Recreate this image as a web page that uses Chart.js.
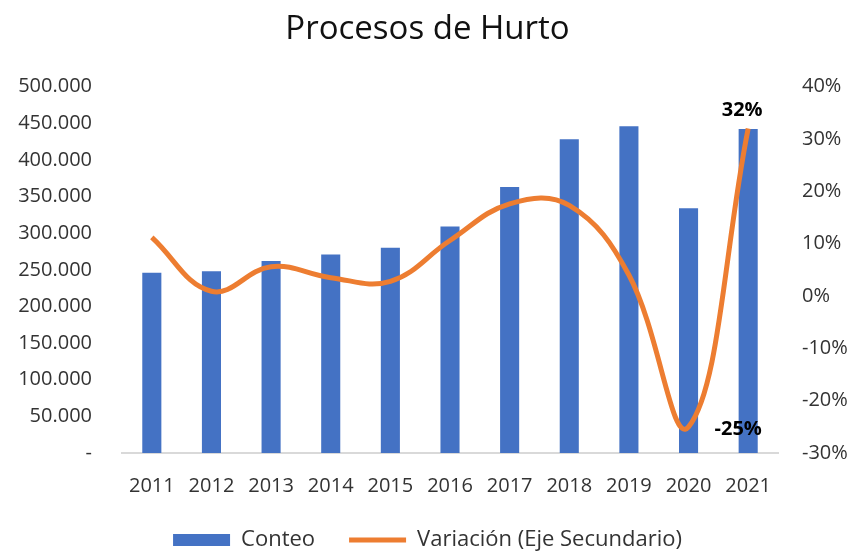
<!DOCTYPE html>
<html>
<head>
<meta charset="utf-8">
<script src="https://cdn.jsdelivr.net/npm/chart.js@4"></script>
<style>
  html, body { margin: 0; padding: 0; background: #fff; }
  #wrap { width: 855px; height: 551px; }
</style>
</head>
<body>
<div id="wrap"><canvas id="chart" width="855" height="551"></canvas></div>
<script>
// values
const years = ['2011','2012','2013','2014','2015','2016','2017','2018','2019','2020','2021'];
const conteo = [246000, 248000, 262000, 271000, 280000, 309000, 363000, 428000, 446000, 334000, 442000];
const variacion = [11.2, 0.9, 5.6, 3.5, 2.8, 10.6, 17.6, 17.3, 4.0, -25, 32];
const labeledYears = ['2020', '2021'];

const BLUE = '#4472C4';
const ORANGE = '#ED7D31';
const FONT = "'Open Sans', 'Noto Sans', sans-serif";

function miles(v){
  if(v === 0) return '-';
  return String(v).replace(/\B(?=(\d{3})+(?!\d))/g, '.');
}

// data labels for the line (only 2020 and 2021)
const pointLabels = {
  id: 'pointLabels',
  afterDatasetsDraw(chart){
    const meta = chart.getDatasetMeta(1);
    const ctx = chart.ctx;
    ctx.save();
    ctx.font = 'bold 20px ' + FONT;
    ctx.fillStyle = '#000';
    years.forEach((y, i)=>{
      if(!labeledYears.includes(y)) return;
      const pt = meta.data[i];
      const txt = Math.round(variacion[i]) + '%';
      if(variacion[i] >= 0){
        ctx.textAlign = 'center';
        ctx.textBaseline = 'bottom';
        ctx.fillText(txt, pt.x - 6, pt.y - 8);
      } else {
        ctx.textAlign = 'left';
        ctx.textBaseline = 'middle';
        ctx.fillText(txt, pt.x + 26, pt.y + 2);
      }
    });
    ctx.restore();
  }
};

// nudge the legend down, and let the year labels use the room above it
const legendShift = {
  id: 'legendShift',
  afterLayout(chart){
    if(chart.legend){ chart.legend.top += 10; chart.legend.bottom += 10; }
    const x = chart.scales.x;
    if(x){ x.bottom = x.top + 55; x.height = 55; }
  }
};

new Chart(document.getElementById('chart'), {
  data: {
    labels: years,
    datasets: [
      {
        type: 'bar',
        label: 'Conteo',
        data: conteo,
        backgroundColor: BLUE,
        yAxisID: 'y',
        barPercentage: 0.32,
        categoryPercentage: 1,
        order: 2
      },
      {
        type: 'line',
        label: 'Variación (Eje Secundario)',
        data: variacion,
        borderColor: ORANGE,
        backgroundColor: ORANGE,
        borderWidth: 5,
        pointRadius: 0,
        tension: 0.4,
        yAxisID: 'y1',
        order: 1
      }
    ]
  },
  options: {
    responsive: false,
    animation: false,
    layout: { padding: 0 },
    plugins: {
      title: {
        display: true,
        text: 'Procesos de Hurto',
        color: '#111',
        font: { family: FONT, size: 33, weight: 'normal' },
        padding: { top: 10, bottom: 37 }
      },
      legend: {
        position: 'bottom',
        labels: {
          color: '#333',
          font: { family: FONT, size: 22 },
          usePointStyle: true,
          pointStyleWidth: 57,
          boxHeight: 12,
          padding: 34,
          sort: (a, b) => a.datasetIndex - b.datasetIndex,
          generateLabels(chart){
            const items = Chart.defaults.plugins.legend.labels.generateLabels(chart);
            items.forEach(it=>{
              if(it.datasetIndex === 0){
                it.pointStyle = 'rect';
                it.lineWidth = 0;
                it.fillStyle = BLUE;
              } else {
                it.pointStyle = 'line';
                it.lineWidth = 5;
                it.strokeStyle = ORANGE;
              }
            });
            return items;
          }
        }
      },
      tooltip: { enabled: false }
    },
    scales: {
      x: {
        grid: { display: false },
        border: { display: true, color: '#d9d9d9', width: 2 },
        ticks: { color: '#333', font: { family: FONT, size: 20 }, padding: 13 },
        afterFit(scale){ scale.height = 32; }
      },
      y: {
        position: 'left',
        min: 0,
        max: 500000,
        grid: { display: false },
        border: { display: false },
        ticks: {
          stepSize: 50000,
          color: '#333',
          font: { family: FONT, size: 20 },
          padding: 22,
          callback: v => miles(v)
        },
        afterFit(scale){ scale.width = 122; }
      },
      y1: {
        position: 'right',
        min: -30,
        max: 40,
        grid: { display: false },
        border: { display: false },
        ticks: {
          stepSize: 10,
          color: '#333',
          font: { family: FONT, size: 20 },
          padding: 16,
          callback: v => v + '%'
        },
        afterFit(scale){ scale.width = 77; }
      }
    }
  },
  plugins: [pointLabels, legendShift]
});
</script>
</body>
</html>
